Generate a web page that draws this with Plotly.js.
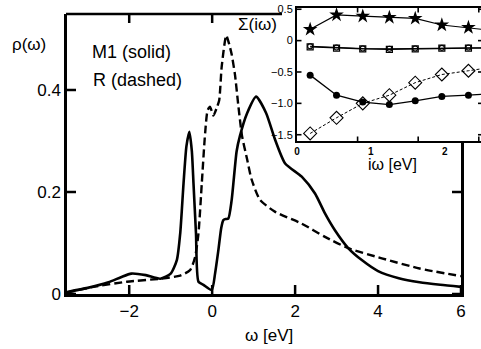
<!DOCTYPE html>
<html>
<head>
<meta charset="utf-8">
<script src="https://cdn.plot.ly/plotly-3.0.1.min.js"></script>
<style>html,body{margin:0;padding:0;background:#fff;}#chart{width:481px;height:349px;}</style>
</head>
<body>
<div id="chart"></div>
<script>
// Main panel: spectral function rho(omega)
const omegaM1 = [-3.5,-3.0,-2.5,-2.2,-1.95,-1.6,-1.25,-1.0,-0.85,-0.77,-0.69,-0.62,-0.55,-0.49,-0.45,-0.39,-0.33,-0.21,-0.01,0.07,0.15,0.22,0.27,0.33,0.39,0.47,0.59,0.67,0.84,1.06,1.3,1.52,1.76,2.16,2.48,2.72,2.96,3.28,3.6,4.0,4.5,5.0,5.5,6.0];
const rhoM1   = [0.004,0.012,0.023,0.033,0.040,0.037,0.030,0.040,0.067,0.119,0.217,0.29,0.318,0.28,0.217,0.119,0.024,0.018,0.008,0.04,0.086,0.13,0.145,0.147,0.148,0.184,0.28,0.31,0.354,0.387,0.355,0.302,0.256,0.23,0.197,0.158,0.125,0.09,0.067,0.045,0.031,0.023,0.018,0.014];
const omegaR  = [-3.5,-2.86,-2.06,-1.25,-0.77,-0.53,-0.41,-0.33,-0.25,-0.17,-0.11,-0.05,0.03,0.11,0.17,0.23,0.34,0.41,0.47,0.55,0.63,0.72,0.84,0.95,1.15,1.52,2.16,2.72,3.28,4.09,5.0,6.0];
const rhoR    = [0.003,0.014,0.024,0.03,0.036,0.047,0.073,0.119,0.217,0.315,0.36,0.367,0.35,0.365,0.38,0.446,0.507,0.49,0.47,0.43,0.37,0.31,0.265,0.225,0.185,0.161,0.138,0.112,0.09,0.07,0.05,0.035];
const mainXTicks = [-2,0,2,4,6];
const mainXTickText = ['\u22122','0','2','4','6'];
const mainYTicks = [0,0.2,0.4];
const mainYTickText = ['0','0.2','0.4'];

// Inset: self-energy on the Matsubara axis
const iomega   = [0.178,0.535,0.89,1.25,1.6,1.96,2.32,2.67];
const sigStar  = [0.18,0.41,0.39,0.37,0.355,0.25,0.21,0.157];
const sigSq    = [-0.10,-0.12,-0.13,-0.14,-0.13,-0.12,-0.12,-0.12];
const sigOc    = [-0.09,-0.11,-0.125,-0.13,-0.125,-0.115,-0.11,-0.11];
const sigFc    = [-0.55,-0.87,-0.98,-1.02,-0.96,-0.89,-0.87,-0.845];
const sigDia   = [-1.48,-1.23,-1.0,-0.87,-0.67,-0.54,-0.48,-0.42];
const insetXLabels = [0,1,2];
const insetXTickMarks = [0.82,1.64,2.46];
const insetYTicks = [0.5,0,-0.5,-1.0,-1.5];
const insetYTickText = ['0.5','0','\u22120.5','\u22121.0','\u22121.5'];

const W = 481, H = 349;
const px = v => v / W;
const py = v => 1 - v / H;
const FONT = 'Liberation Sans, Arial, Helvetica, sans-serif';

// geometry (pixels)
const M = {l:67, r:461, t:14, b:294};
const I = {l:297, r:481, t:8, b:141};
const XR = [-3.5, 6], YR = [0, 0.549];
const XR2 = [0, 2.49], YR2 = [-1.6, 0.52];
const xPix = v => M.l + (v - XR[0]) / (XR[1] - XR[0]) * (M.r - M.l);
const yPix = v => M.b - (v - YR[0]) / (YR[1] - YR[0]) * (M.b - M.t);

const traces = [
  {x: omegaM1, y: rhoM1, xaxis:'x', yaxis:'y', mode:'lines', line:{color:'#000', width:2.6, shape:'spline', smoothing:0.6}, hoverinfo:'skip'},
  {x: omegaR, y: rhoR, xaxis:'x', yaxis:'y', mode:'lines', line:{color:'#000', width:2.4, dash:'8px,4px', shape:'spline', smoothing:0.6}, hoverinfo:'skip'},
  {x: iomega, y: sigStar, xaxis:'x2', yaxis:'y2', mode:'lines+markers', line:{color:'#000', width:1.1}, marker:{symbol:'star', size:11, color:'#000'}},
  {x: iomega, y: sigOc, xaxis:'x2', yaxis:'y2', mode:'lines+markers', line:{color:'#000', width:1.1}, marker:{symbol:'circle-open', size:5, color:'#000', line:{width:1.1}}},
  {x: iomega, y: sigSq, xaxis:'x2', yaxis:'y2', mode:'lines+markers', line:{color:'#000', width:1.3}, marker:{symbol:'square-open', size:6, color:'#000', line:{width:1.2}}},
  {x: iomega, y: sigFc, xaxis:'x2', yaxis:'y2', mode:'lines+markers', line:{color:'#000', width:1.3}, marker:{symbol:'circle', size:7, color:'#000'}},
  {x: iomega, y: sigDia, xaxis:'x2', yaxis:'y2', mode:'lines+markers', line:{color:'#000', width:1, dash:'3px,2px'}, marker:{symbol:'diamond-open', size:10, color:'#000', line:{width:1.1}}}
];

// tick marks drawn as shapes (inside ticks)
const shapes = [];
const TL = 9, TW = 2.5;
mainXTicks.forEach(v => {
  shapes.push({type:'line', xref:'x', yref:'paper', x0:v, x1:v, y0:py(M.b), y1:py(M.b - TL), line:{color:'#000', width:TW}, layer:'above'});
  if (xPix(v) < 282) shapes.push({type:'line', xref:'x', yref:'paper', x0:v, x1:v, y0:py(M.t), y1:py(M.t + TL), line:{color:'#000', width:TW}, layer:'above'});
});
mainYTicks.forEach(v => {
  shapes.push({type:'line', xref:'paper', yref:'y', x0:px(M.l), x1:px(M.l + TL), y0:v, y1:v, line:{color:'#000', width:TW}, layer:'above'});
  if (yPix(v) > I.b + 4) shapes.push({type:'line', xref:'paper', yref:'y', x0:px(M.r), x1:px(M.r - TL), y0:v, y1:v, line:{color:'#000', width:TW}, layer:'above'});
});
// main frame top border (stops where the inset's white area begins)
shapes.push({type:'line', xref:'paper', yref:'paper', x0:px(66), x1:px(282), y0:py(M.t), y1:py(M.t), line:{color:'#000', width:2.6}, layer:'above'});
// inset ticks
const TL2 = 4.5, TW2 = 1.6;
insetXTickMarks.forEach(v => {
  shapes.push({type:'line', xref:'x2', yref:'paper', x0:v, x1:v, y0:py(I.b), y1:py(I.b - TL2), line:{color:'#000', width:TW2}, layer:'above'});
  shapes.push({type:'line', xref:'x2', yref:'paper', x0:v, x1:v, y0:py(I.t), y1:py(I.t + TL2), line:{color:'#000', width:TW2}, layer:'above'});
});
insetYTicks.forEach(v => {
  shapes.push({type:'line', xref:'paper', yref:'y2', x0:px(I.l), x1:px(I.l + TL2), y0:v, y1:v, line:{color:'#000', width:TW2}, layer:'above'});
  shapes.push({type:'line', xref:'paper', yref:'y2', x0:px(I.r - 3), x1:1, y0:v, y1:v, line:{color:'#000', width:TW2}, layer:'above'});
});

const layout = {
  width: W, height: H,
  margin: {l:0, r:0, t:0, b:0},
  paper_bgcolor: '#fff', plot_bgcolor: '#fff',
  showlegend: false,
  font: {family: FONT, color:'#000', size:17},
  xaxis: {
    domain: [px(M.l), px(M.r)], range: XR, anchor:'y',
    tickmode:'array', tickvals: mainXTicks, ticktext: mainXTickText, ticks:'',
    showline:true, linewidth:2.6, linecolor:'#000', mirror:false,
    showgrid:false, zeroline:false, tickfont:{size:17, family:FONT}
  },
  yaxis: {
    domain: [py(M.b), py(M.t)], range: YR, anchor:'x',
    tickmode:'array', tickvals: mainYTicks, ticktext: mainYTickText, ticks:'',
    showline:true, linewidth:2.6, linecolor:'#000', mirror:true,
    showgrid:false, zeroline:false, tickfont:{size:17, family:FONT}
  },
  xaxis2: {
    domain: [px(I.l), 1], range: XR2, anchor:'y2',
    tickmode:'array', tickvals: insetXLabels, ticks:'',
    showline:true, linewidth:2, linecolor:'#000', mirror:true,
    showgrid:false, zeroline:false, tickfont:{size:10, family:FONT, weight:'bold'}
  },
  yaxis2: {
    domain: [py(I.b), py(I.t)], range: YR2, anchor:'x2',
    tickmode:'array', tickvals: insetYTicks, ticktext: insetYTickText, ticks:'',
    showline:true, linewidth:2, linecolor:'#000', mirror:false,
    showgrid:false, zeroline:false, tickfont:{size:11, family:FONT}
  },
  shapes: shapes,
  annotations: [
    {xref:'paper', yref:'paper', x:px(29), y:py(45), text:'\u03c1(\u03c9)', showarrow:false, xanchor:'center', yanchor:'middle', font:{size:17, family:FONT}},
    {xref:'paper', yref:'paper', x:px(269), y:py(335), text:'\u03c9 [eV]', showarrow:false, xanchor:'center', yanchor:'middle', font:{size:17, family:FONT}},
    {xref:'paper', yref:'paper', x:px(90), y:py(52), text:'M1 (solid)', showarrow:false, xanchor:'left', yanchor:'middle', font:{size:18, family:FONT}},
    {xref:'paper', yref:'paper', x:px(91), y:py(80), text:'R (dashed)', showarrow:false, xanchor:'left', yanchor:'middle', font:{size:18, family:FONT}},
    {xref:'paper', yref:'paper', x:px(257), y:py(25), text:'\u03a3(i\u03c9)', showarrow:false, xanchor:'center', yanchor:'middle', font:{size:17, family:FONT}},
    {xref:'paper', yref:'paper', x:px(392), y:py(165), text:'i\u03c9 [eV]', showarrow:false, xanchor:'center', yanchor:'middle', font:{size:16, family:FONT}}
  ]
};

Plotly.newPlot('chart', traces, layout, {staticPlot:true, displayModeBar:false});
</script>
</body>
</html>
